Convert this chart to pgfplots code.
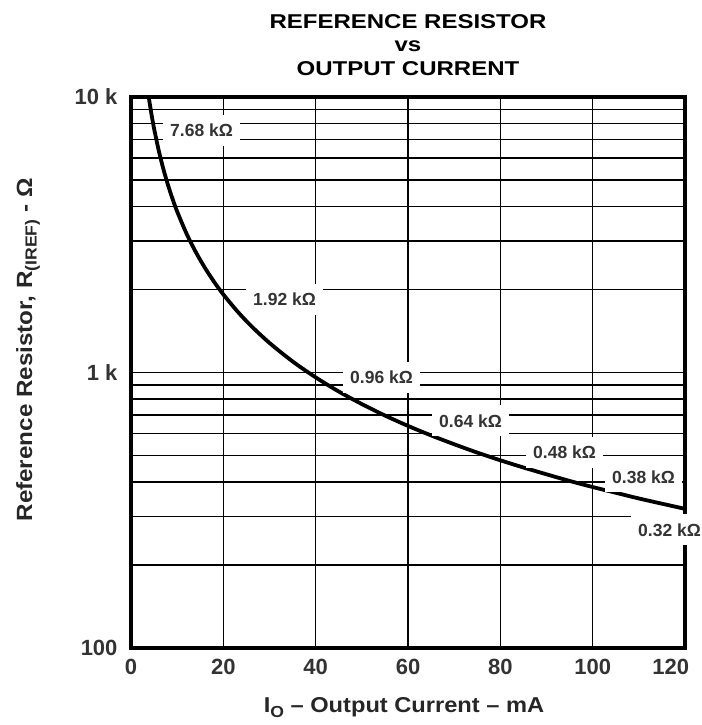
\documentclass[border=0pt]{standalone}
\usepackage{pgfplots}
\pgfplotsset{compat=1.18}
\usepackage{fontspec}
\setmainfont{Liberation Sans}
\newfontfamily\titlefont{Liberation Sans}[FakeStretch=1.2]
\newfontfamily\labfont{Liberation Sans}[FakeStretch=1.1]
\begin{document}
\begin{tikzpicture}
\useasboundingbox (0pt,0pt) rectangle (701pt,725pt);
\begin{axis}[
  at={(131pt,77pt)}, anchor=south west,
  scale only axis, width=554pt, height=551pt,
  xmin=0, xmax=120, ymode=log, ymin=100, ymax=10000,
  xtick={0,20,40,60,80,100,120},
  xticklabels={0,20,40,60,80,100,\makebox[8pt][r]{120}},
  ytick={100,1000,10000},
  yticklabels={100,1 k,10 k},
  minor x tick num=0,
  grid=both,
  major grid style={black, line width=1.6pt},
  minor grid style={black, line width=1.6pt},
  major tick length=0pt, minor tick length=0pt,
  axis line style={line width=4pt},
  ticklabel style={font=\fontsize{22}{22}\selectfont\bfseries, text=black!80},
  xticklabel style={yshift=-8pt},
  yticklabel style={xshift=-10pt},
  xlabel={I\raisebox{-0.45ex}{\fontsize{16}{16}\selectfont O} – Output Current – mA},
  xlabel style={font=\fontsize{21.5}{21.5}\selectfont\labfont\bfseries, text=black!85,
    at={(axis description cs:0.4928,-0.1162)}, anchor=base},
  ylabel={Reference Resistor, R\raisebox{-0.4ex}{\fontsize{16}{16}\selectfont (IREF)} - Ω},
  ylabel style={font=\fontsize{22}{22}\selectfont\labfont\bfseries, text=black!85,
    at={(axis description cs:-0.1787,0.5408)}, anchor=base},
  title={REFERENCE RESISTOR\\vs\\OUTPUT CURRENT},
  title style={font=\fontsize{20}{23.5}\selectfont\titlefont\bfseries, align=center, text=black, yshift=12pt},
]
\addplot[black, line width=3.8pt, smooth] coordinates {
(3.84,10000) (4,9600) (4.5,8533) (5,7680) (6,6400) (7,5486) (8,4800) (9,4267)
(10,3840) (12,3200) (14,2743) (16,2400) (18,2133) (20,1920) (23,1670) (26,1477)
(30,1280) (35,1097) (40,960) (45,853) (50,768) (55,698) (60,640) (65,591)
(70,549) (75,512) (80,480) (85,452) (90,427) (95,404) (100,384) (105,366)
(110,349) (115,334) (120,320)
};
\coordinate (L1) at (axis cs:6.93,7589);
\coordinate (L2) at (axis cs:24.91,1848);
\coordinate (L3) at (axis cs:45.92,963);
\coordinate (L4) at (axis cs:65.20,666.8);
\coordinate (L5) at (axis cs:85.56,514.5);
\coordinate (L6) at (axis cs:102.67,417.6);
\coordinate (L7) at (axis cs:108.30,268.2);
\end{axis}
\begin{scope}[every node/.style={fill=white, anchor=west, inner xsep=7pt, inner ysep=0pt, minimum height=31pt, text=black!80, font=\fontsize{17.5}{17.5}\selectfont\bfseries}]
\node at (L1) {7.68 kΩ\hspace{17pt}};
\node at (L2) {1.92 kΩ\hspace{17pt}};
\node at (L3) {0.96 kΩ\hspace{17pt}};
\node at (L4) {0.64 kΩ\hspace{17pt}};
\node at (L5) {0.48 kΩ\hspace{17pt}};
\node at (L6) {0.38 kΩ\hspace{17pt}};
\node at (L7) {0.32 kΩ\hspace{17pt}};
\end{scope}
\end{tikzpicture}
\end{document}
